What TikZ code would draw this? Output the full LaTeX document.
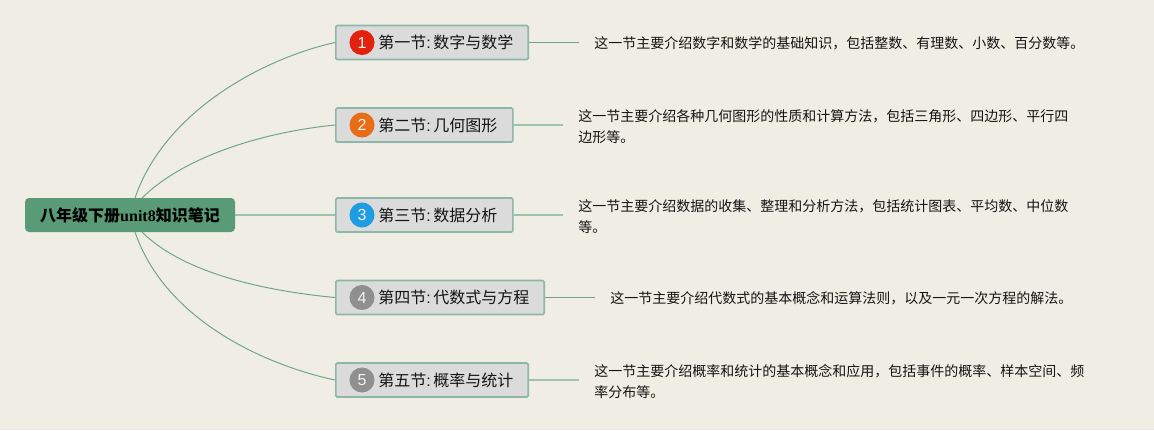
\documentclass[tikz,border=0pt]{standalone}
\usepackage{fontspec}
\setmainfont{Noto Sans CJK SC}
\newfontfamily\latinbold{Liberation Serif}[BoldFont={Liberation Serif Bold}]
\newfontfamily\numfont{Liberation Sans}
\definecolor{bgc}{HTML}{F0EEE4}
\definecolor{rootc}{HTML}{589B76}
\definecolor{boxc}{HTML}{DBDBDC}
\definecolor{boxline}{HTML}{8DB7A9}
\definecolor{thinline}{HTML}{6FA58F}
\definecolor{thickline}{HTML}{9CC3AF}
\definecolor{inkc}{HTML}{141414}
\definecolor{redc}{HTML}{E2220C}
\definecolor{orangec}{HTML}{E96C16}
\definecolor{bluec}{HTML}{1F9DE3}
\definecolor{grayc}{HTML}{8F8F8F}
\newcommand{\seccolon}{{\numfont:}\hspace{1.9pt}}
\tikzset{
  x=0.75pt,y=-0.75pt,
  rootbox/.style={draw=none,fill=rootc,rounded corners=3pt,minimum width=157.5pt,minimum height=25.5pt,inner sep=0pt,
    font=\fontsize{12pt}{14pt}\selectfont\bfseries,text=black},
  secbox/.style={draw=boxline,line width=1.2pt,fill=boxc,rounded corners=1pt,anchor=west,minimum height=25.5pt,inner ysep=0pt,inner xsep=2pt,align=left,
    font=\fontsize{12pt}{14pt}\selectfont,text=inkc},
  badge/.style={circle,minimum size=18.8pt,inner sep=0pt,text=white!90!gray,font=\numfont\fontsize{12pt}{14pt}\selectfont},
  desc/.style={anchor=west,inner sep=0pt,align=left,text=inkc,font=\fontsize{10.5pt}{15.75pt}\selectfont},
  curvelink/.style={draw=thinline,line width=0.75pt},
  thinlink/.style={draw=thinline,line width=0.75pt},
  thicklink/.style={draw=thickline,line width=1.4pt},
}
\begin{document}
\begin{tikzpicture}
\useasboundingbox (0,0) rectangle (1154,430);
\fill[bgc] (0,0) rectangle (1154,430);

% root
\node[rootbox] (root) at (130,215) {八年级下册{\latinbold\bfseries unit8}知识笔记};
\coordinate (r1) at (135,198);
\coordinate (r2) at (142,198);
\coordinate (r4) at (142,232);
\coordinate (r5) at (135,232);

% section boxes
\node[secbox,text width=140.3pt] (s1) at (335,42.5) {\hspace*{30pt}第一节\seccolon 数字与数学};
\node[secbox,text width=128.8pt] (s2) at (335,125) {\hspace*{30pt}第二节\seccolon 几何图形};
\node[secbox,text width=128.8pt] (s3) at (335,215) {\hspace*{30pt}第三节\seccolon 数据分析};
\node[secbox,text width=152.3pt] (s4) at (335,297.5) {\hspace*{30pt}第四节\seccolon 代数式与方程};
\node[secbox,text width=140.3pt] (s5) at (335,380) {\hspace*{30pt}第五节\seccolon 概率与统计};

% badges
\node[badge,fill=redc] (b1) at (362,42.5) {1};
\node[badge,fill=orangec] (b2) at (362,125) {2};
\node[badge,fill=bluec] (b3) at (362,215) {3};
\node[badge,fill=grayc] (b4) at (362,297.5) {4};
\node[badge,fill=grayc] (b5) at (362,380) {5};

% curves
\draw[curvelink] (r1) .. controls (165,110) and (265,58) .. (s1.west);
\draw[curvelink] (r2) .. controls (180,160) and (255,133) .. (s2.west);
\draw[thicklink] (root.east) -- (s3.west);
\draw[curvelink] (r4) .. controls (180,270) and (255,290) .. (s4.west);
\draw[curvelink] (r5) .. controls (165,320) and (265,365) .. (s5.west);

% free ends
\coordinate (e1) at (579,42.5);
\coordinate (e2) at (563,125);
\coordinate (e3) at (563,215);
\coordinate (e4) at (595,297.5);
\coordinate (e5) at (579,380);
\draw[thinlink] (s1.east) -- (e1);
\draw[thicklink] (s2.east) -- (e2);
\draw[thicklink] (s3.east) -- (e3);
\draw[thinlink] (s4.east) -- (e4);
\draw[thicklink] (s5.east) -- (e5);

% descriptions
\node[desc] (d1) at (594,43) {这一节主要介绍数字和数学的基础知识，包括整数、有理数、小数、百分数等。};
\node[desc] (d2) at (578,126.5) {这一节主要介绍各种几何图形的性质和计算方法，包括三角形、四边形、平行四\\边形等。};
\node[desc] (d3) at (578,216.5) {这一节主要介绍数据的收集、整理和分析方法，包括统计图表、平均数、中位数\\等。};
\node[desc] (d4) at (610,298.5) {这一节主要介绍代数式的基本概念和运算法则，以及一元一次方程的解法。};
\node[desc] (d5) at (594,381.5) {这一节主要介绍概率和统计的基本概念和应用，包括事件的概率、样本空间、频\\率分布等。};
\end{tikzpicture}
\end{document}
